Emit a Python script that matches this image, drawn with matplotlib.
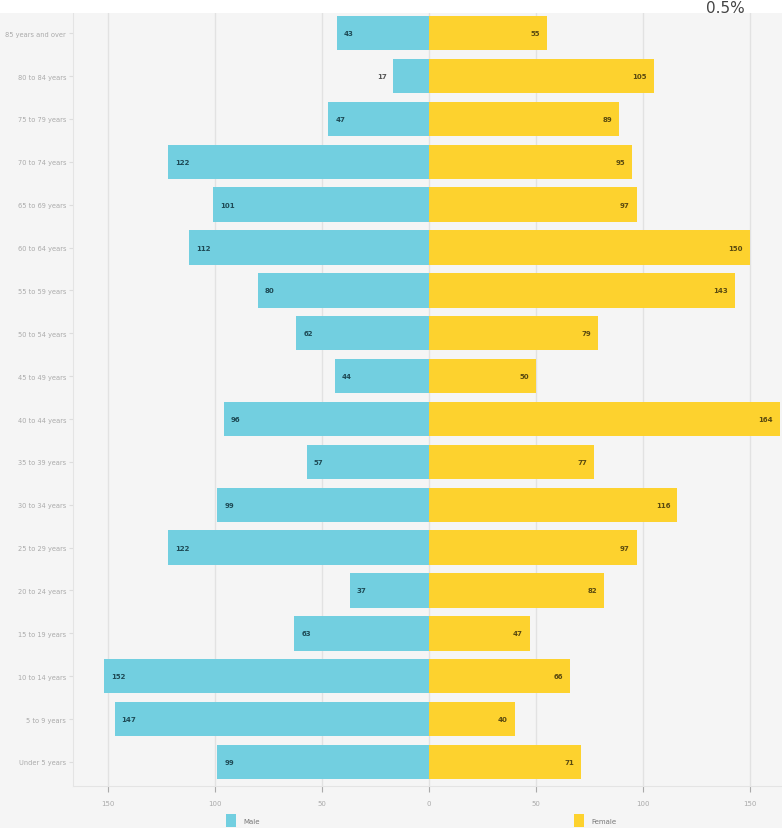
import numpy as np
import matplotlib
matplotlib.use("Agg")
import matplotlib.pyplot as plt
from matplotlib.ticker import FuncFormatter
from matplotlib.patches import Rectangle

# age groups, oldest first (top of the pyramid)
age_groups = ["85 years and over", "80 to 84 years", "75 to 79 years", "70 to 74 years",
              "65 to 69 years", "60 to 64 years", "55 to 59 years", "50 to 54 years",
              "45 to 49 years", "40 to 44 years", "35 to 39 years", "30 to 34 years",
              "25 to 29 years", "20 to 24 years", "15 to 19 years", "10 to 14 years",
              "5 to 9 years", "Under 5 years"]
male = [43, 17, 47, 122, 101, 112, 80, 62, 44, 96, 57, 99, 122, 37, 63, 152, 147, 99]
female = [55, 105, 89, 95, 97, 150, 143, 79, 50, 164, 77, 116, 97, 82, 47, 66, 40, 71]
xticks = [-150, -100, -50, 0, 50, 100, 150]

MALE_C = "#72cfe0"
FEMALE_C = "#fdd22e"
BG = "#f5f5f5"

fig = plt.figure(figsize=(7.82, 8.29), dpi=100, facecolor=BG)
W, H = 782, 829
ax = fig.add_axes([73 / W, 1 - 787 / H, (782 - 73) / W, (787 - 14) / H])
ax.set_facecolor(BG)

# white strip across the top
fig.patches.append(Rectangle((0, 1 - 14 / H), 1, 14 / H, transform=fig.transFigure,
                             facecolor="white", edgecolor="none", zorder=0))
fig.text(745 / W, 1 - 1 / H, "0.5%", ha="right", va="top", fontsize=11, color="#444444")

n = len(age_groups)
y = np.arange(n)[::-1]

ax.barh(y, [-m for m in male], height=0.8, color=MALE_C, zorder=2)
ax.barh(y, female, height=0.8, color=FEMALE_C, zorder=2)

for yi, m, f in zip(y, male, female):
    if m >= 25:
        ax.annotate(str(m), (-m, yi), xytext=(5, 0), textcoords="offset points",
                    ha="left", va="center", fontsize=5, color="#1e4a55", fontweight="bold")
    else:
        ax.annotate(str(m), (-m, yi), xytext=(-4, 0), textcoords="offset points",
                    ha="right", va="center", fontsize=5, color="#555555", fontweight="bold")
    ax.annotate(str(f), (f, yi), xytext=(-5, 0), textcoords="offset points",
                ha="right", va="center", fontsize=5, color="#5a4a10", fontweight="bold")

ax.set_xlim(-166.4, 165)
ax.set_ylim(-0.56, n - 1 + 0.47)
ax.set_yticks(y)
ax.set_yticklabels(age_groups, fontsize=4.8, color="#aaaaaa")
ax.set_xticks(xticks)
ax.xaxis.set_major_formatter(FuncFormatter(lambda v, p: f"{abs(int(v))}"))
ax.tick_params(axis="x", labelsize=5, colors="#aaaaaa", length=4, pad=6)
ax.tick_params(axis="y", length=3, colors="#dddddd", labelcolor="#aaaaaa", pad=2)

ax.grid(axis="x", color="#e2e2e2", linewidth=1, zorder=0)
for s in ["top", "right"]:
    ax.spines[s].set_visible(False)
ax.spines["left"].set_color("#e4e4e4")
ax.spines["bottom"].set_color("#e4e4e4")

# legend swatches below the axis
for x0, c, lab in [(231, MALE_C, "Male"), (579, FEMALE_C, "Female")]:
    fig.patches.append(Rectangle(((x0 - 5) / W, 1 - 828 / H), 10 / W, 13 / H,
                                 transform=fig.transFigure, facecolor=c, edgecolor="none"))
    fig.text((x0 + 12) / W, 1 - 822 / H, lab, ha="left", va="center",
             fontsize=5, color="#777777")

fig.savefig("out.png", dpi=100, facecolor=BG)
